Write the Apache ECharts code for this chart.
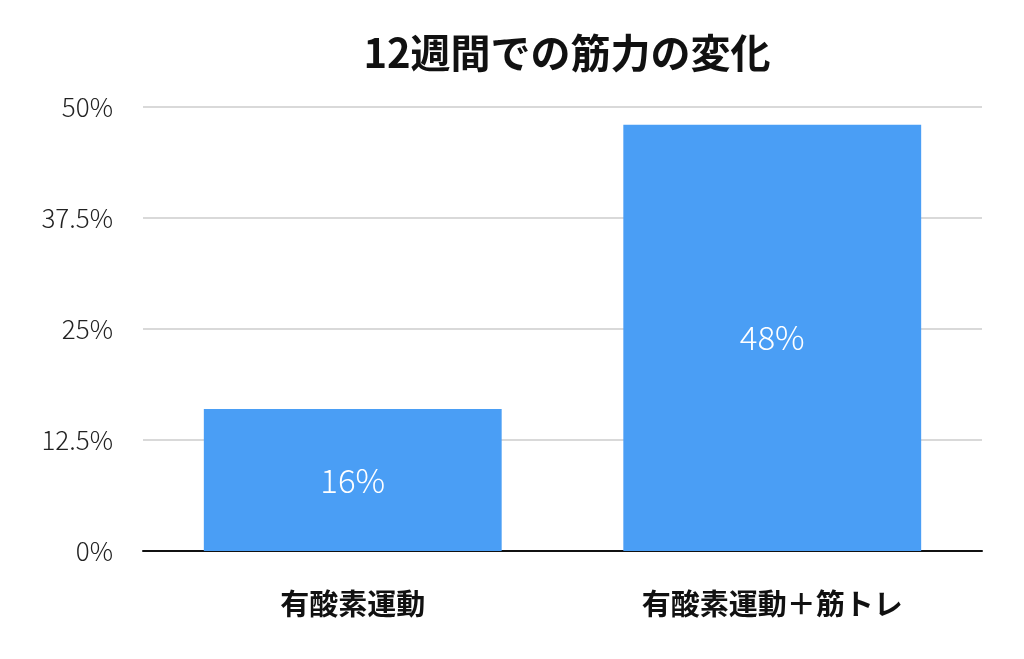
<!DOCTYPE html>
<html>
<head>
<meta charset="utf-8">
<script src="https://cdn.jsdelivr.net/npm/echarts@6/dist/echarts.min.js"></script>
<style>html,body{margin:0;padding:0;background:#fff}#chart{width:1024px;height:659px}</style>
</head>
<body>
<div id="chart"></div>
<script>
const categories = ["有酸素運動", "有酸素運動＋筋トレ"];
const values = [16, 48];
const tickLabels = ["0%", "12.5%", "25%", "37.5%", "50%"];

const chart = echarts.init(document.getElementById('chart'));
const font = '"Noto Sans CJK JP", "Noto Sans", sans-serif';
chart.setOption({
    animation: false,
    title: {
        text: "12週間での筋力の変化",
        left: 562, top: 28, textAlign: 'center',
        textStyle: {fontFamily: font, fontSize: 40, fontWeight: 'bold', color: '#111'}
    },
    grid: {left: 143, right: 42, top: 107, bottom: 108},
    xAxis: {
        type: 'category',
        data: categories,
        axisLine: {lineStyle: {color: '#111', width: 2}},
        axisTick: {show: false},
        axisLabel: {fontFamily: font, fontSize: 29, fontWeight: 'bold', color: '#111', margin: 38}
    },
    yAxis: {
        type: 'value',
        min: 0, max: 50, interval: 12.5,
        axisLine: {show: false},
        axisTick: {show: false},
        splitLine: {lineStyle: {color: '#ccc', width: 1.5}},
        axisLabel: {
            fontFamily: font, fontSize: 26, fontWeight: 300, color: '#222', margin: 30,
            formatter: function (v) { return tickLabels[Math.round(v / 12.5)]; }
        }
    },
    series: [{
        type: 'bar',
        data: values,
        barWidth: '71%',
        itemStyle: {color: '#4A9EF5'},
        label: {
            show: true, position: 'inside',
            formatter: '{c}%',
            fontFamily: font, fontSize: 33, fontWeight: 300, color: '#fff'
        }
    }]
});
</script>
</body>
</html>
